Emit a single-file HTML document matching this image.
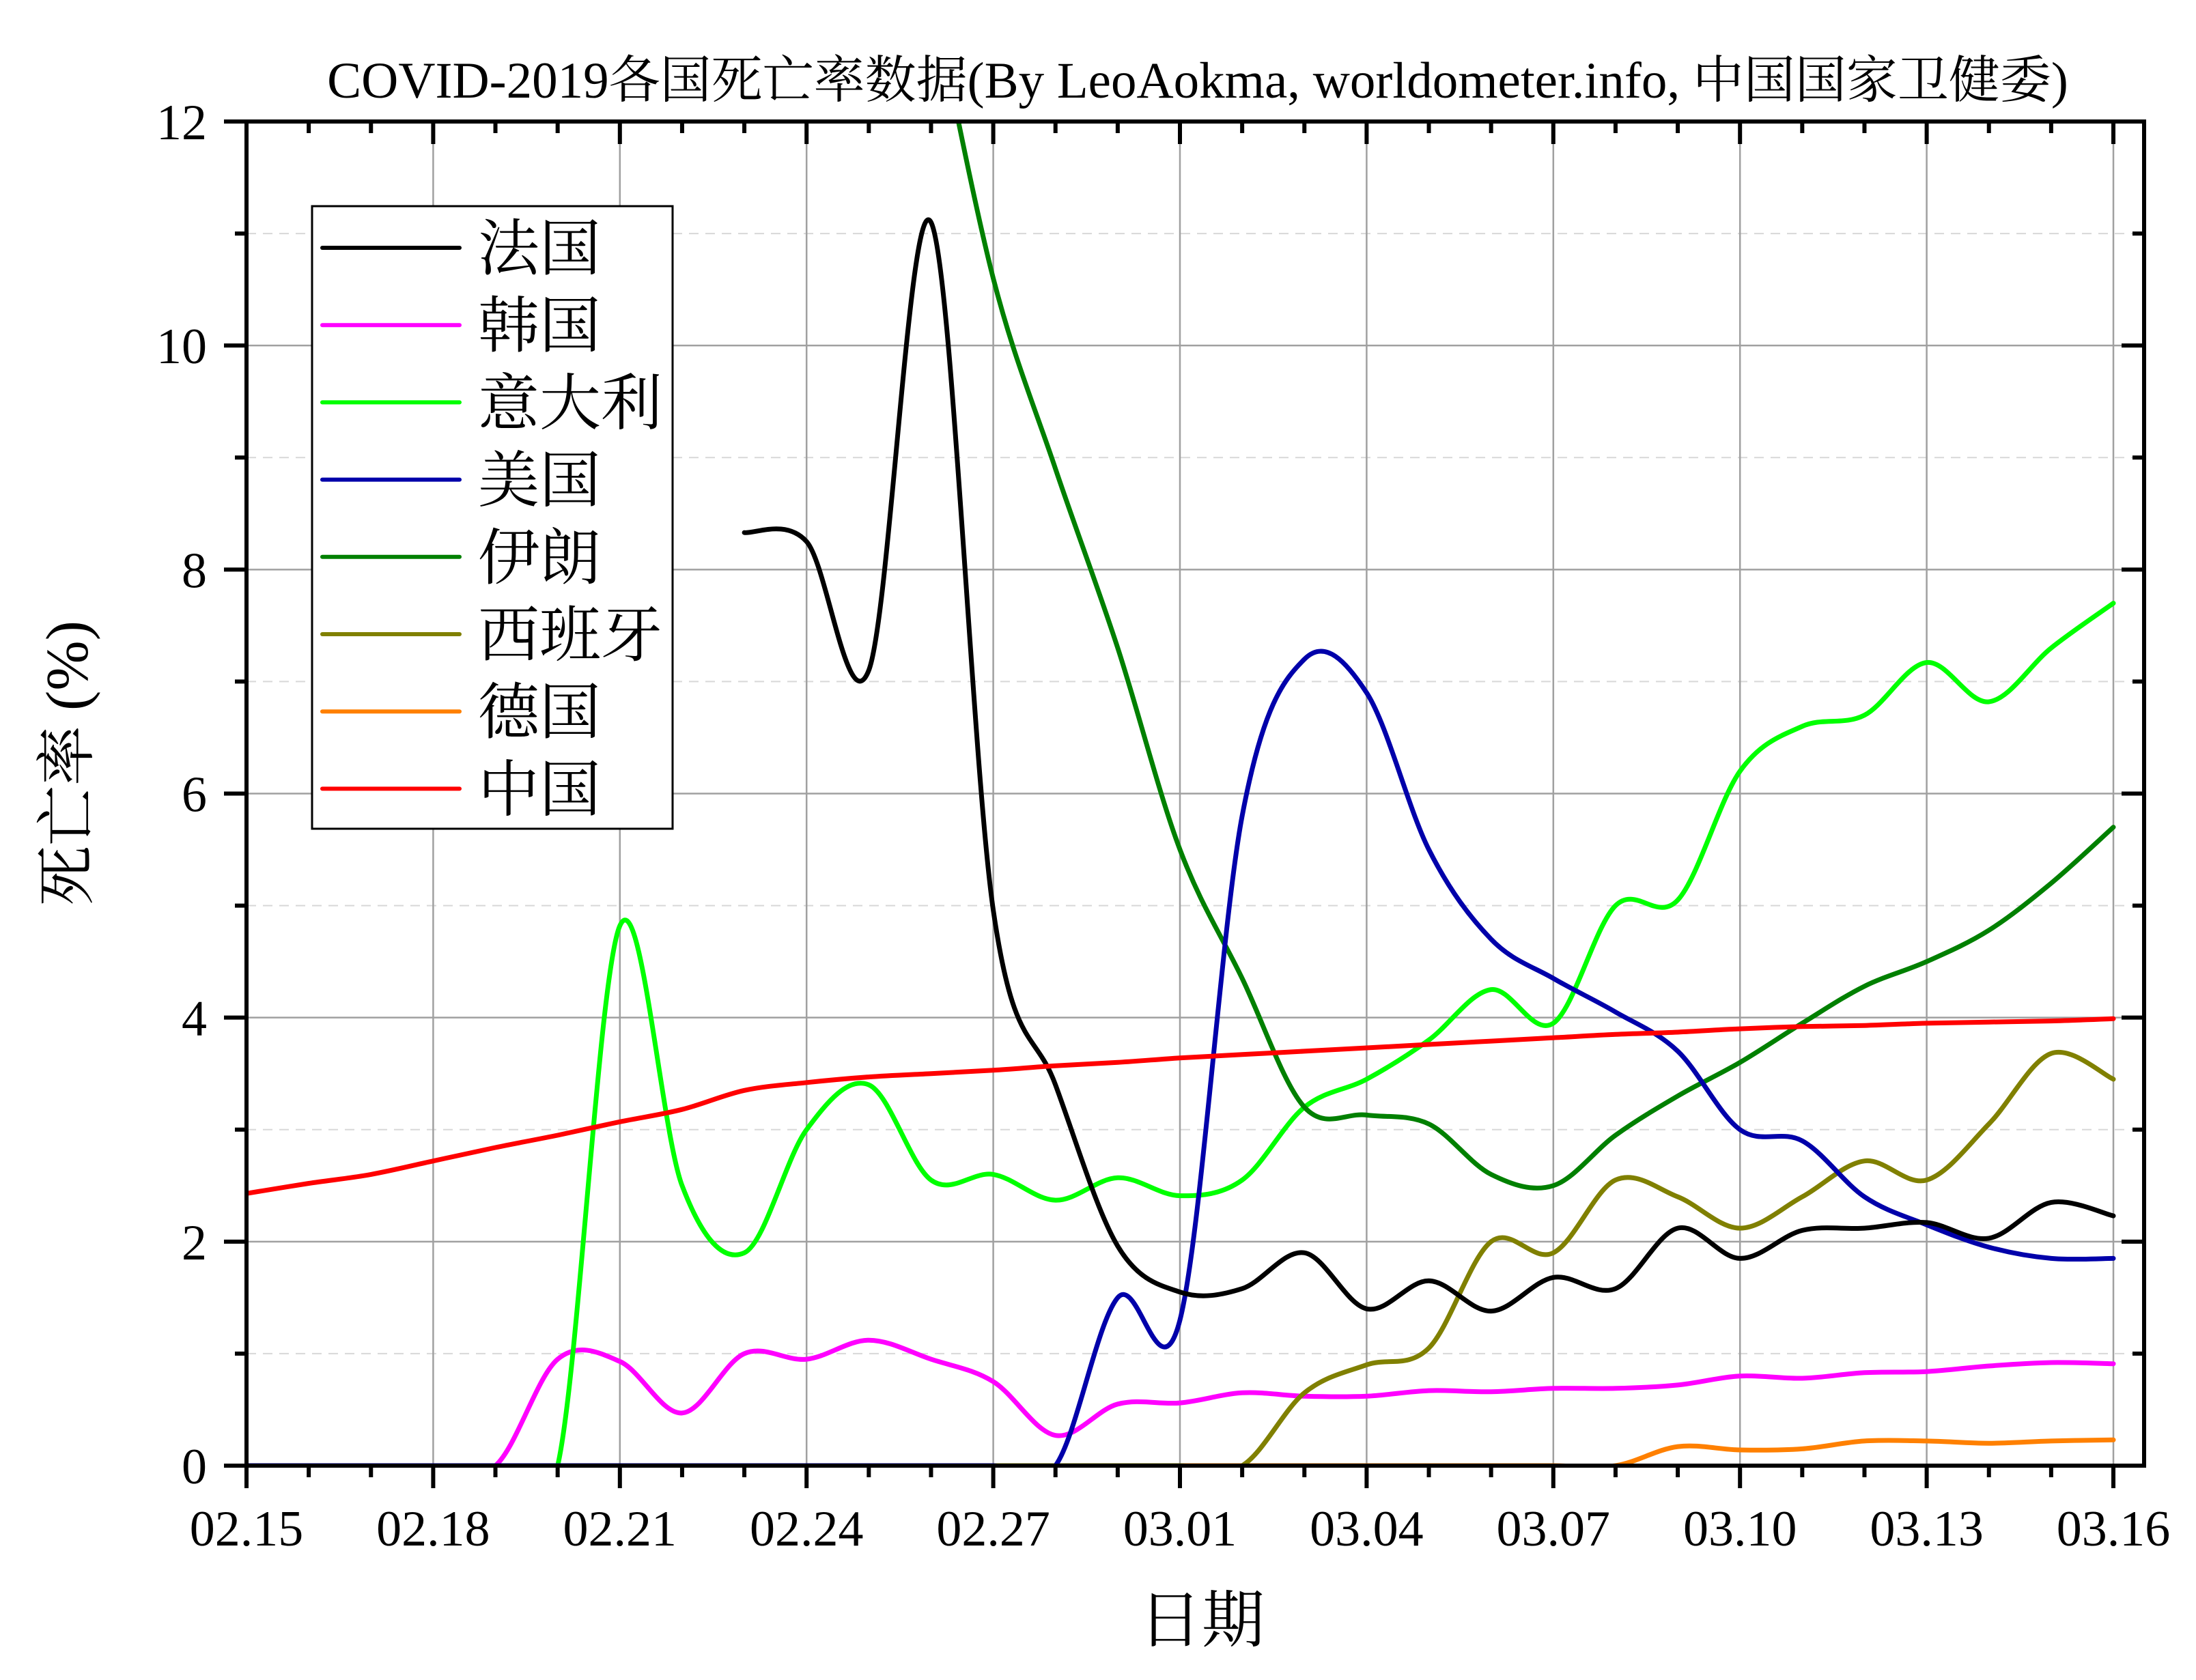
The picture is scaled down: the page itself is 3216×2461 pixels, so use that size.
<!DOCTYPE html>
<html><head><meta charset="utf-8">
<style>
html,body{margin:0;padding:0;background:#fff;}
svg{display:block;}
text{font-family:"Liberation Serif","Noto Serif CJK SC",serif;fill:#000;}
</style></head>
<body>
<svg id="chart" width="3216" height="2461" viewBox="0 0 3216 2461" xmlns="http://www.w3.org/2000/svg">
<rect x="0" y="0" width="3216" height="2461" fill="#fff"/>
<g id="grid"></g>
<g id="series"></g>
<g id="axes"></g>
<g id="legend"></g>
</svg>
<script>
const days = 30;
const xTickLabels = ["02.15","02.18","02.21","02.24","02.27","03.01","03.04","03.07","03.10","03.13","03.16"];
const yTickLabels = [0,2,4,6,8,10,12];
const seriesNames = ["法国","韩国","意大利","美国","伊朗","西班牙","德国","中国"];
const seriesColors = ["#000000","#ff00ff","#00ff00","#0000aa","#008000","#808000","#ff8000","#ff0000"];
const _ = null;
const france = [_,_,_,_,_,_,_,_,8.33,8.25,7.1,11.1,4.96,3.4,1.96,1.55,1.58,1.9,1.4,1.65,1.38,1.68,1.58,2.12,1.85,2.1,2.12,2.17,2.03,2.35,2.23];
const korea = [0,0,0,0,0,0.95,0.93,0.47,1.0,0.95,1.12,0.95,0.75,0.27,0.55,0.56,0.65,0.62,0.62,0.67,0.66,0.69,0.69,0.72,0.8,0.78,0.83,0.84,0.89,0.92,0.91];
const italy = [0,0,0,0,0,0,4.82,2.5,1.9,3.0,3.4,2.55,2.6,2.37,2.57,2.41,2.55,3.2,3.45,3.8,4.25,3.95,5.0,5.05,6.2,6.6,6.7,7.17,6.82,7.3,7.7];
const usa = [0,0,0,0,0,0,0,0,0,0,0,0,0,0,1.5,1.3,5.8,7.2,6.9,5.5,4.7,4.35,4.05,3.7,3.0,2.9,2.4,2.15,1.95,1.85,1.85];
const iran = [_,_,_,_,_,_,_,_,_,_,_,13.2,10.6,8.9,7.3,5.5,4.35,3.2,3.13,3.05,2.6,2.5,2.95,3.3,3.6,3.95,4.28,4.5,4.78,5.2,5.7];
const spain = [0,0,0,0,0,0,0,0,0,0,0,0,0,0,0,0,0,0.65,0.9,1.05,2.0,1.9,2.55,2.4,2.12,2.4,2.72,2.55,3.05,3.68,3.45];
const germany = [0,0,0,0,0,0,0,0,0,0,0,0,0,0,0,0,0,0,0,0,0,0,0,0.17,0.14,0.15,0.22,0.22,0.2,0.22,0.23];
const china = [2.43,2.52,2.6,2.72,2.84,2.95,3.07,3.18,3.35,3.42,3.47,3.5,3.53,3.57,3.6,3.64,3.67,3.7,3.73,3.76,3.79,3.82,3.85,3.87,3.9,3.92,3.93,3.95,3.96,3.97,3.99];
const allSeries = [france,korea,italy,usa,iran,spain,germany,china];

const L=361,R=3140,T=178,B=2147,X0=361,X1=3095,YMAX=12;
const NS="http://www.w3.org/2000/svg";
function xs(d){return X0+(X1-X0)*d/days;}
function ys(v){return B-(B-T)*v/YMAX;}
function mk(tag,attrs,parent){const e=document.createElementNS(NS,tag);for(const k in attrs)e.setAttribute(k,attrs[k]);parent.appendChild(e);return e;}
const svg=document.getElementById('chart');
const grid=document.getElementById('grid'),axes=document.getElementById('axes'),ser=document.getElementById('series'),leg=document.getElementById('legend');

const defs=mk('defs',{},svg);
const cp=mk('clipPath',{id:'pc'},defs);
mk('rect',{x:L,y:T,width:R-L,height:B-T},cp);
ser.setAttribute('clip-path','url(#pc)');

for(let v=1;v<YMAX;v++){
  const g=mk('line',{x1:L,x2:R,y1:ys(v),y2:ys(v),stroke:v%2?'#d8d8d8':'#a0a0a0','stroke-width':v%2?2:2.5,'stroke-dasharray':v%2?'14 10':'none'},grid);
  
  
}
for(let i=1;i<xTickLabels.length;i++){
  const x=xs(i*3);
  const g=mk('line',{x1:x,x2:x,y1:T,y2:B,stroke:'#a0a0a0','stroke-width':2.5},grid);
  
  
}

function pathFor(arr){
  let segs=[],cur=[];
  arr.forEach((v,i)=>{if(v===null){if(cur.length)segs.push(cur);cur=[];}else cur.push([xs(i),ys(v)]);});
  if(cur.length)segs.push(cur);
  let d='';
  segs.forEach(p=>{
    d+='M'+p[0][0].toFixed(1)+','+p[0][1].toFixed(1);
    for(let i=0;i<p.length-1;i++){
      const p0=p[i-1]||p[i],p1=p[i],p2=p[i+1],p3=p[i+2]||p2;
      const c1=[p1[0]+(p2[0]-p0[0])/6,p1[1]+(p2[1]-p0[1])/6];
      const c2=[p2[0]-(p3[0]-p1[0])/6,p2[1]-(p3[1]-p1[1])/6];
      d+='C'+c1[0].toFixed(1)+','+c1[1].toFixed(1)+' '+c2[0].toFixed(1)+','+c2[1].toFixed(1)+' '+p2[0].toFixed(1)+','+p2[1].toFixed(1);
    }
  });
  return d;
}
const order=[6,1,5,2,4,3,0,7];
order.forEach(i=>{
  const p=mk('path',{d:pathFor(allSeries[i]),fill:'none',stroke:seriesColors[i],'stroke-width':7,'stroke-linejoin':'round','stroke-linecap':'round'},ser);
  
  
});

const fr=mk('rect',{x:L,y:T,width:R-L,height:B-T,fill:'none',stroke:'#000','stroke-width':6},axes);


for(let d=0;d<=days;d++){
  const x=xs(d),maj=d%3===0,len=maj?33:17;
  mk('line',{x1:x,x2:x,y1:B,y2:B+len,stroke:'#000','stroke-width':6},axes);
  mk('line',{x1:x,x2:x,y1:T,y2:T+len,stroke:'#000','stroke-width':6},axes);
}
xTickLabels.forEach((lab,i)=>{
  const t=mk('text',{x:xs(i*3),y:2264,'font-size':74,'text-anchor':'middle'},axes);
  t.textContent=lab;
  
  
});
for(let v=0;v<=YMAX;v++){
  const y=ys(v),len=v%2===0?33:17;
  mk('line',{x1:L-len,x2:L,y1:y,y2:y,stroke:'#000','stroke-width':6},axes);
  mk('line',{x1:R-len,x2:R,y1:y,y2:y,stroke:'#000','stroke-width':6},axes);
}
yTickLabels.forEach(v=>{
  const t=mk('text',{x:303,y:ys(v)+26,'font-size':74,'text-anchor':'end'},axes);
  t.textContent=v;
  
  
});
let t=mk('text',{x:1754,y:143,'font-size':75,'text-anchor':'middle'},axes);
t.textContent='COVID-2019各国死亡率数据(By LeoAokma, worldometer.info, 中国国家卫健委)';


t=mk('text',{x:1760,y:2405,'font-size':92,'text-anchor':'middle'},axes);
t.textContent='日期';


t=mk('text',{x:0,y:0,'font-size':88,'text-anchor':'middle',transform:'translate(128,1118) rotate(-90)'},axes);
t.textContent='死亡率 (%)';



const lb=mk('rect',{x:457,y:302,width:528,height:912,fill:'#fff',stroke:'#000','stroke-width':3},leg);


seriesNames.forEach((n,i)=>{
  const y=363+i*113.2;
  const g=mk('g',{},leg);
  
  
  mk('line',{x1:472,x2:673,y1:y,y2:y,stroke:seriesColors[i],'stroke-width':6,'stroke-linecap':'round'},g);
  const tx=mk('text',{x:700,y:y+32,'font-size':90},g);
  tx.textContent=n;
});
</script>
</body></html>
